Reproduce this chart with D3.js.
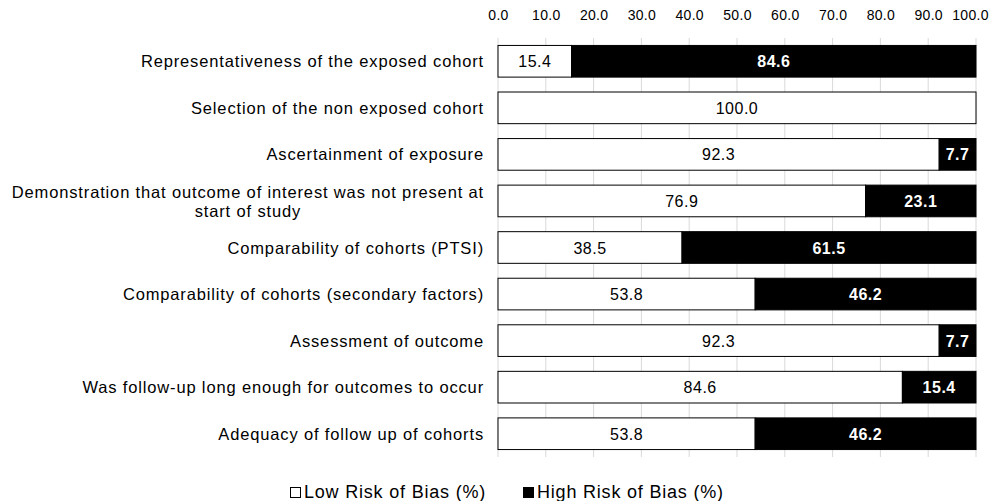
<!DOCTYPE html>
<html>
<head>
<meta charset="utf-8">
<script src="https://cdn.jsdelivr.net/npm/d3@7"></script>
<style>
  body { margin: 0; background: #fff; }
  text { font-family: "Liberation Sans", Arial, sans-serif; }
</style>
</head>
<body>
<div id="chart"></div>
<script>
const categories = [
    'Representativeness of the exposed cohort',
    'Selection of the non exposed cohort',
    'Ascertainment of exposure',
    'Demonstration that outcome of interest was not present at|start of study',
    'Comparability of cohorts (PTSI)',
    'Comparability of cohorts (secondary factors)',
    'Assessment of outcome',
    'Was follow-up long enough for outcomes to occur',
    'Adequacy of follow up of cohorts'
];
const lowRisk = [15.4, 100.0, 92.3, 76.9, 38.5, 53.8, 92.3, 84.6, 53.8];
const highRisk = [84.6, 0, 7.7, 23.1, 61.5, 46.2, 7.7, 15.4, 46.2];
const tickValues = [0, 10, 20, 30, 40, 50, 60, 70, 80, 90, 100];
const seriesNames = ['Low Risk of Bias (%)', 'High Risk of Bias (%)'];

const width = 995;
const height = 501;
const plot = { left: 498, right: 976, top: 38, bottom: 457 };

const svg = d3.select('#chart')
    .append('svg')
    .attr('width', width)
    .attr('height', height);

const x = d3.scaleLinear().domain([0, 100]).range([plot.left, plot.right]);
const y = d3.scaleBand()
    .domain(d3.range(categories.length))
    .range([plot.top, plot.bottom])
    .paddingInner(0.32)
    .paddingOuter(0.16);

// gridlines
svg.append('g')
    .selectAll('line')
    .data(tickValues)
    .enter()
    .append('line')
    .attr('x1', d => x(d)).attr('x2', d => x(d))
    .attr('y1', plot.top).attr('y2', plot.bottom)
    .attr('stroke', '#d9d9d9')
    .attr('stroke-width', 1);

// top axis labels
const axis = d3.axisTop(x).tickValues(tickValues).tickFormat(d3.format('.1f')).tickSize(0).tickPadding(0);
const axisG = svg.append('g')
    .attr('transform', 'translate(0,19.5)')
    .call(axis);
axisG.select('.domain').remove();
axisG.selectAll('text')
    .attr('font-family', '"Liberation Sans", Arial, sans-serif')
    .attr('font-size', 14)
    .attr('letter-spacing', 0.3)
    .attr('fill', '#000')
    .attr('dx', d => d === 100 ? -6 : 0);

const idx = d3.range(categories.length);
const rows = svg.append('g')
    .selectAll('g')
    .data(idx)
    .enter()
    .append('g');

// low risk (white) bars
rows.append('rect')
    .attr('x', x(0))
    .attr('y', i => y(i))
    .attr('width', i => x(lowRisk[i]) - x(0))
    .attr('height', y.bandwidth())
    .attr('fill', '#fff')
    .attr('stroke', '#000')
    .attr('stroke-width', 1);

const highRows = rows.filter(i => highRisk[i] > 0);

// high risk (black) bars
highRows.append('rect')
    .attr('x', i => x(lowRisk[i]))
    .attr('y', i => y(i))
    .attr('width', i => x(lowRisk[i] + highRisk[i]) - x(lowRisk[i]))
    .attr('height', y.bandwidth())
    .attr('fill', '#000')
    .attr('stroke', '#000')
    .attr('stroke-width', 1);

// value labels
rows.append('text')
    .attr('x', i => (x(0) + x(lowRisk[i])) / 2)
    .attr('y', i => y(i) + y.bandwidth() / 2 + 6)
    .attr('text-anchor', 'middle')
    .attr('font-size', 16)
    .attr('letter-spacing', 0.5)
    .attr('fill', '#000')
    .text(i => lowRisk[i].toFixed(1));

highRows.append('text')
    .attr('x', i => (x(lowRisk[i]) + x(lowRisk[i] + highRisk[i])) / 2)
    .attr('y', i => y(i) + y.bandwidth() / 2 + 6)
    .attr('text-anchor', 'middle')
    .attr('font-size', 16)
    .attr('font-weight', 'bold')
    .attr('letter-spacing', 0.5)
    .attr('fill', '#fff')
    .text(i => highRisk[i].toFixed(1));

// category labels
rows.each(function(i) {
    const lines = categories[i].split('|');
    const g = d3.select(this);
    const cy = y(i) + y.bandwidth() / 2 + 6;
    const first = g.append('text')
        .attr('font-size', 16.5)
        .attr('letter-spacing', 0.85)
        .attr('fill', '#000')
        .attr('x', 484)
        .attr('y', lines.length === 1 ? cy : cy - 9)
        .attr('text-anchor', 'end')
        .text(lines[0]);
    if (lines.length > 1) {
        const box = first.node().getBBox();
        g.append('text')
            .attr('font-size', 16.5)
            .attr('letter-spacing', 0.85)
            .attr('fill', '#000')
            .attr('x', box.x + box.width / 2)
            .attr('y', cy + 10)
            .attr('text-anchor', 'middle')
            .text(lines[1]);
    }
});

// legend
const legend = svg.append('g');
const legendX = [290, 523];
seriesNames.forEach((name, i) => {
    legend.append('rect')
        .attr('x', legendX[i] + 0.5)
        .attr('y', 487.5)
        .attr('width', 10)
        .attr('height', 10)
        .attr('fill', i === 0 ? '#fff' : '#000')
        .attr('stroke', '#000')
        .attr('stroke-width', 1);
    legend.append('text')
        .attr('x', legendX[i] + 14)
        .attr('y', 498)
        .attr('font-size', 18)
        .attr('letter-spacing', 0.8)
        .attr('fill', '#000')
        .text(name);
});
</script>
</body>
</html>
